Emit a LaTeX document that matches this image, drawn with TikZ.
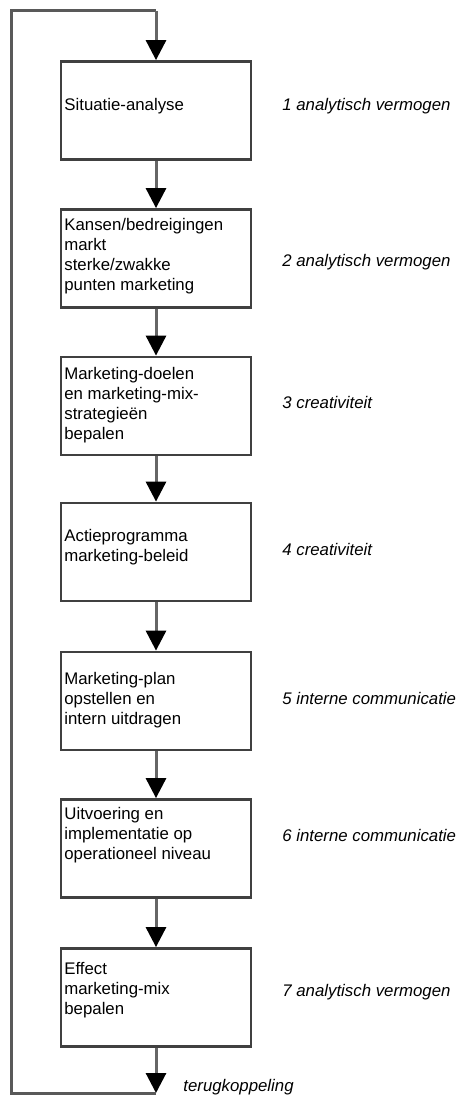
\documentclass[tikz,border=0pt]{standalone}
\usepackage{fontspec}
\setmainfont{Liberation Sans}
\usetikzlibrary{arrows.meta}

\begin{document}
\begin{tikzpicture}[x=0.5pt,y=-0.5pt]
		\tikzstyle {stepbox} = [draw=black!75, line width=1.4pt, minimum width=95pt, minimum height=49pt, inner sep=0pt]
		\tikzstyle {step text} = [anchor=west, align=left, inner sep=1pt, font=\fontsize{8.4}{10}\selectfont]
		\tikzstyle {skill} = [anchor=west, inner sep=0pt, font=\fontsize{8.4}{10}\selectfont\itshape]
		\tikzstyle {flow} = [draw=black!60, line width=1.5pt, -{Triangle[width=10pt,length=10pt,color=black,fill=black]}]
		\tikzstyle {loop line} = [draw=black!65, line width=1.5pt]

		\useasboundingbox (0,0) rectangle (456,1096);

		% the seven steps
		\node[stepbox] (s1) at (156,110.5) {};
		\node[stepbox] (s2) at (156,258.5) {};
		\node[stepbox] (s3) at (156,406) {};
		\node[stepbox] (s4) at (156,552) {};
		\node[stepbox] (s5) at (156,701) {};
		\node[stepbox] (s6) at (156,848.5) {};
		\node[stepbox] (s7) at (156,997.5) {};

		\node[step text] (t1) at (62,106) {Situatie-analyse};
		\node[step text] (t2) at (62,256) {Kansen/bedreigingen\\markt\\sterke/zwakke\\punten marketing};
		\node[step text] (t3) at (62,405) {Marketing-doelen\\en marketing-mix-\\strategieën\\bepalen};
		\node[step text] (t4) at (62,547) {Actieprogramma\\marketing-beleid};
		\node[step text] (t5) at (62,700) {Marketing-plan\\opstellen en\\intern uitdragen};
		\node[step text] (t6) at (62,835) {Uitvoering en\\implementatie op\\operationeel niveau};
		\node[step text] (t7) at (62,990) {Effect\\marketing-mix\\bepalen};

		% skills on the right
		\node[skill] (k1) at (282,106) {1 analytisch vermogen};
		\node[skill] (k2) at (282,262) {2 analytisch vermogen};
		\node[skill] (k3) at (282,402) {3 creativiteit};
		\node[skill] (k4) at (282,549) {4 creativiteit};
		\node[skill] (k5) at (282,698) {5 interne communicatie};
		\node[skill] (k6) at (282,835) {6 interne communicatie};
		\node[skill] (k7) at (282,992) {7 analytisch vermogen};

		\draw[flow] (s1) -- (s2);
		\draw[flow] (s2) -- (s3);
		\draw[flow] (s3) -- (s4);
		\draw[flow] (s4) -- (s5);
		\draw[flow] (s5) -- (s6);
		\draw[flow] (s6) -- (s7);

		% feedback loop
		\coordinate (fb) at (156,1093);
		\coordinate (fb left) at (11,1093);
		\coordinate (fb top) at (11,11);
		\coordinate (top) at (156,11);
		\draw[flow] (s7) -- (fb);
		\node[skill] (fb text) at (183,1087) {terugkoppeling};
		\draw[loop line] (fb) -- (fb left) -- (fb top) -- (top);
		\draw[flow] (top) -- (s1);
\end{tikzpicture}
\end{document}
